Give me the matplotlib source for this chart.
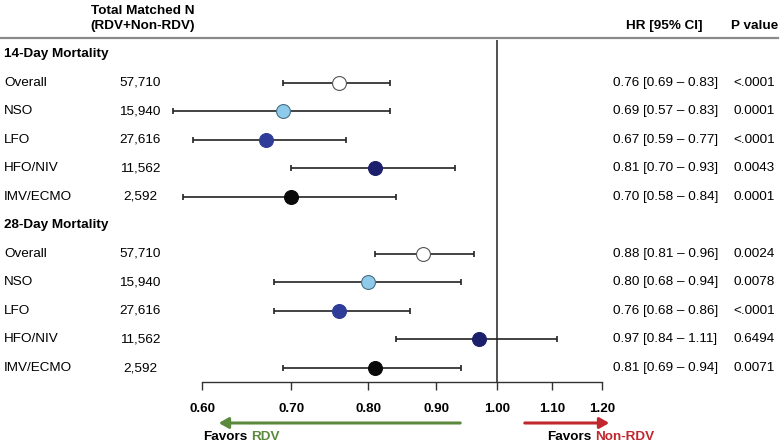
import matplotlib
matplotlib.use('Agg')
import matplotlib.pyplot as plt
from matplotlib import transforms
from matplotlib.lines import Line2D
from matplotlib.patches import FancyArrowPatch
from matplotlib.ticker import NullLocator

plt.rcParams['font.family'] = ['Liberation Sans', 'DejaVu Sans']

# data
sections = ['14-Day Mortality', '28-Day Mortality']
groups = ['Overall', 'NSO', 'LFO', 'HFO/NIV', 'IMV/ECMO']
n_matched = ['57,710', '15,940', '27,616', '11,562', '2,592']
hr_14 = [0.76, 0.69, 0.67, 0.81, 0.70]
lo_14 = [0.69, 0.57, 0.59, 0.70, 0.58]
hi_14 = [0.83, 0.83, 0.77, 0.93, 0.84]
p_14 = ['<.0001', '0.0001', '<.0001', '0.0043', '0.0001']
hr_28 = [0.88, 0.80, 0.76, 0.97, 0.81]
lo_28 = [0.81, 0.68, 0.68, 0.84, 0.69]
hi_28 = [0.96, 0.94, 0.86, 1.11, 0.94]
p_28 = ['0.0024', '0.0078', '<.0001', '0.6494', '0.0071']
ticks = [0.60, 0.70, 0.80, 0.90, 1.00, 1.10, 1.20]
colors = ['white', '#8ecbea', '#2f3d99', '#1c1f6b', '#0a0a0a']
edges = ['#555555', '#4a6f85', '#2f3d99', '#1c1f6b', '#0a0a0a']

W, H = 782, 442
fig = plt.figure(figsize=(W / 100, H / 100), dpi=100)
ax = fig.add_axes([165 / W, (H - 382) / H, (640 - 165) / W, 342 / H])
ax.set_xscale('log')
ax.set_xlim(0.5625, 1.281)
ax.set_ylim(11.49, -0.49)

fs = 9.7
tr = transforms.blended_transform_factory(fig.transFigure, ax.transData)

blocks = [(hr_14, lo_14, hi_14, p_14), (hr_28, lo_28, hi_28, p_28)]
row = 0
for s, (hr, lo, hi, pv) in zip(sections, blocks):
    ax.text(4 / W, row, s, transform=tr, fontsize=fs, fontweight='bold',
            va='center', ha='left')
    row += 1
    for i, g in enumerate(groups):
        ax.errorbar(hr[i], row, xerr=[[hr[i] - lo[i]], [hi[i] - hr[i]]],
                    fmt='none', ecolor='#222222', elinewidth=1.2,
                    capsize=2.3, capthick=1.2, zorder=2)
        ax.plot(hr[i], row, 'o', ms=10, mfc=colors[i], mec=edges[i],
                mew=0.8, zorder=3)
        ax.text(4 / W, row, g, transform=tr, fontsize=fs, va='center')
        ax.text(140 / W, row, n_matched[i], transform=tr, fontsize=fs,
                va='center', ha='center')
        ax.text(613 / W, row, f'{hr[i]:.2f} [{lo[i]:.2f} \u2013 {hi[i]:.2f}]',
                transform=tr, fontsize=fs, va='center', ha='left')
        ax.text(733 / W, row, pv[i], transform=tr, fontsize=fs,
                va='center', ha='left')
        row += 1

ax.axvline(1.0, color='#222222', lw=1.1, zorder=1)

for sp in ['left', 'top', 'right']:
    ax.spines[sp].set_visible(False)
ax.spines['bottom'].set_bounds(0.6, 1.2)
ax.spines['bottom'].set_color('#333333')
ax.spines['bottom'].set_linewidth(1.0)
ax.set_yticks([])
ax.set_xticks(ticks)
ax.xaxis.set_minor_locator(NullLocator())
ax.set_xticklabels([f'{t:.2f}' for t in ticks], fontsize=fs, fontweight='bold')
ax.tick_params(axis='x', direction='out', length=6, width=1.0,
               color='#333333', pad=9)

# headers
fig.text(143 / W, 1 - 11 / H, 'Total Matched N', fontsize=fs, fontweight='bold',
         ha='center', va='center')
fig.text(143 / W, 1 - 26 / H, '(RDV+Non-RDV)', fontsize=fs, fontweight='bold',
         ha='center', va='center')
fig.text(703 / W, 1 - 26 / H, 'HR [95% CI]', fontsize=fs, fontweight='bold',
         ha='right', va='center')
fig.text(778 / W, 1 - 26 / H, 'P value', fontsize=fs, fontweight='bold',
         ha='right', va='center')
fig.add_artist(Line2D([0, 778 / W], [1 - 38 / H, 1 - 38 / H],
                      color='#8a8a8a', lw=1.6))

# favors arrows
green = '#5b8a3c'
red = '#c0282d'
ya = 1 - 423 / H
fig.add_artist(FancyArrowPatch(
    (463 / W, ya), (216 / W, ya), transform=fig.transFigure,
    arrowstyle='-|>,head_length=3.5,head_width=2', color=green, lw=2.2,
    mutation_scale=1.6))
fig.add_artist(FancyArrowPatch(
    (522 / W, ya), (612 / W, ya), transform=fig.transFigure,
    arrowstyle='-|>,head_length=3.5,head_width=2', color=red, lw=2.2,
    mutation_scale=1.6))

yf = 1 - 437 / H
t1 = fig.text(203 / W, yf, 'Favors', fontsize=fs, fontweight='bold',
              ha='left', va='center')
ax.annotate('RDV', xy=(1, 0), xycoords=t1, xytext=(2.8, 0),
            textcoords='offset points', fontsize=fs, fontweight='bold',
            color=green, ha='left', va='bottom', annotation_clip=False)
t2 = fig.text(547 / W, yf, 'Favors', fontsize=fs, fontweight='bold',
              ha='left', va='center')
ax.annotate('Non-RDV', xy=(1, 0), xycoords=t2, xytext=(2.8, 0),
            textcoords='offset points', fontsize=fs, fontweight='bold',
            color=red, ha='left', va='bottom', annotation_clip=False)

fig.savefig('out.png', dpi=100)
